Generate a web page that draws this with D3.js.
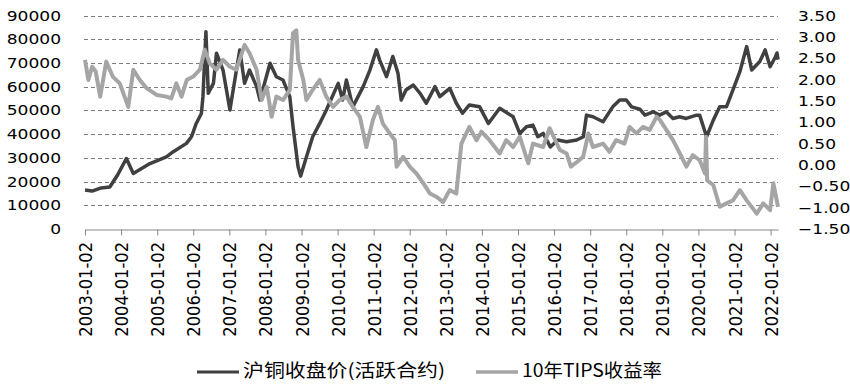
<!DOCTYPE html>
<html>
<head>
<meta charset="utf-8">
<script src="https://cdn.jsdelivr.net/npm/d3@7"></script>
<style>
  body { margin: 0; background: #fff; }
  text { font-family: "DejaVu Sans", Verdana, sans-serif; fill: #000; }
  .legend text { font-family: "Noto Sans CJK SC", sans-serif; }
</style>
</head>
<body>
<div class="chart"></div>
<script>
// data (dates, values)
const copperDates = ["2003-01-02","2003-03-15","2003-06-15","2003-09-10","2003-12-01","2004-02-25","2004-05-05","2004-10-20",
  "2005-04-05","2005-06-10","2005-10-25","2005-12-15","2006-02-01","2006-03-25","2006-04-10","2006-05-10","2006-06-03",
  "2006-07-25","2006-08-25","2006-10-30","2007-01-08","2007-03-15","2007-04-18","2007-06-05","2007-07-25","2007-10-05",
  "2007-11-08","2008-02-18","2008-04-22","2008-06-28","2008-09-05","2008-10-08","2008-11-28","2008-12-24","2009-02-20",
  "2009-04-25","2009-07-05","2009-09-10","2010-01-08","2010-02-22","2010-04-01","2010-06-05","2010-09-18","2010-11-25",
  "2011-01-30","2011-03-03","2011-05-12","2011-07-15","2011-09-05","2011-10-08","2011-11-25","2012-02-07","2012-04-16",
  "2012-06-18","2012-09-14","2012-11-02","2013-02-10","2013-04-18","2013-06-20","2013-08-28","2013-12-10","2014-03-08",
  "2014-07-01","2014-11-14","2015-01-20","2015-03-28","2015-06-02","2015-07-22","2015-09-14","2015-11-25","2016-02-08",
  "2016-05-08","2016-08-18","2016-10-25","2016-11-25","2017-01-30","2017-05-12","2017-08-18","2017-10-28","2018-01-02",
  "2018-02-25","2018-05-20","2018-07-10","2018-10-01","2018-12-05","2019-02-10","2019-04-20","2019-06-25","2019-09-01",
  "2019-12-15","2020-01-15","2020-03-25","2020-06-01","2020-08-05","2020-10-12","2020-12-17","2021-02-25","2021-05-05",
  "2021-06-25","2021-09-15","2021-11-08","2021-12-28","2022-02-18","2022-03-08","2022-03-18"];
const copperValues = [16400,16000,17300,17700,23000,29700,23400,27600,
  30400,32500,36100,38900,44500,48700,55800,83200,57200,
  61400,74100,67000,50200,67000,75500,61400,67000,60000,
  54400,69900,64200,62800,55800,43100,26200,22300,30400,
  38900,44500,50200,61400,54400,62800,51500,60000,67000,
  75500,71300,64200,72700,65700,54400,58600,60700,57200,
  53000,60000,55800,59300,53000,48800,52300,51500,44500,
  50900,47300,40300,43100,43800,38900,40300,34600,37500,
  36800,37500,38900,48000,47300,45200,51500,54400,54400,
  51500,50500,48000,49400,48000,49400,46600,47300,46600,
  48000,48000,38900,45900,51500,51500,58600,66300,76900,
  67000,70600,75500,68400,72400,74200,71400];

const tipsDates = ["2003-01-02","2003-02-05","2003-03-15","2003-04-20","2003-06-05","2003-08-05","2003-10-10","2003-12-20",
  "2004-03-15","2004-05-05","2004-07-10","2004-09-15","2004-12-28","2005-04-05","2005-05-25","2005-07-15","2005-09-05",
  "2005-10-28","2006-01-02","2006-03-10","2006-04-28","2006-06-18","2006-08-25","2006-10-30","2007-01-08","2007-03-15",
  "2007-06-05","2007-07-25","2007-10-05","2007-11-25","2008-01-15","2008-03-05","2008-04-22","2008-06-28","2008-09-05",
  "2008-10-08","2008-11-10","2008-11-28","2009-01-20","2009-02-20","2009-04-25","2009-07-05","2009-09-10","2009-11-18",
  "2010-01-22","2010-04-01","2010-06-05","2010-08-15","2010-10-20","2010-12-25","2011-02-14","2011-04-05","2011-06-14",
  "2011-08-05","2011-08-22","2011-10-28","2012-01-02","2012-03-10","2012-05-20","2012-07-25","2012-10-02","2012-12-05",
  "2013-02-10","2013-04-18","2013-06-08","2013-08-28","2013-11-08","2013-12-28","2014-03-20","2014-07-01","2014-09-05",
  "2014-11-14","2015-01-20","2015-04-16","2015-06-02","2015-09-14","2015-11-18","2016-03-01","2016-05-08","2016-06-20",
  "2016-08-20","2016-10-22","2016-12-15","2017-01-30","2017-05-12","2017-07-15","2017-09-20","2017-12-15","2018-02-05",
  "2018-04-15","2018-06-20","2018-08-28","2018-11-05","2018-12-10","2019-02-12","2019-04-20","2019-06-28","2019-09-03",
  "2019-11-06","2020-01-15","2020-03-09","2020-03-19","2020-03-31","2020-06-01","2020-08-05","2020-10-12","2020-12-17",
  "2021-02-25","2021-05-05","2021-08-15","2021-10-20","2021-12-28","2022-01-30","2022-02-20","2022-03-18"];
const tipsValues = [2.46,1.99,2.30,2.19,1.60,2.42,2.07,1.91,
  1.36,2.23,1.99,1.80,1.64,1.60,1.56,1.91,1.60,
  1.99,2.07,2.23,2.70,2.38,2.23,2.46,2.30,2.23,
  2.81,2.62,2.23,1.52,1.83,1.13,1.60,1.52,1.76,
  3.09,3.15,2.46,1.99,1.52,1.76,1.99,1.60,1.36,
  1.52,1.60,1.36,1.13,0.42,1.05,1.36,0.97,0.74,
  0.58,-0.04,0.19,-0.04,-0.20,-0.43,-0.67,-0.75,-0.87,
  -0.59,-0.67,0.50,0.89,0.58,0.78,0.58,0.27,0.58,
  0.42,0.66,0.04,0.50,0.42,0.86,0.35,0.27,-0.04,
  0.07,0.19,0.74,0.42,0.50,0.31,0.58,0.50,0.89,
  0.74,0.89,0.82,1.13,1.05,0.82,0.58,0.27,-0.04,
  0.23,0.11,-0.20,0.66,-0.36,-0.47,-0.98,-0.90,-0.83,
  -0.59,-0.83,-1.14,-0.90,-1.06,-0.43,-0.67,-0.98];

const xTickLabels = ["2003-01-02","2004-01-02","2005-01-02","2006-01-02","2007-01-02","2008-01-02","2009-01-02",
  "2010-01-02","2011-01-02","2012-01-02","2013-01-02","2014-01-02","2015-01-02","2016-01-02","2017-01-02",
  "2018-01-02","2019-01-02","2020-01-02","2021-01-02","2022-01-02"];
const leftTicks = [0,10000,20000,30000,40000,50000,60000,70000,80000,90000];
const rightTicks = [-1.5,-1,-0.5,0,0.5,1,1.5,2,2.5,3,3.5];
const seriesNames = ["沪铜收盘价(活跃合约)", "10年TIPS收益率"];

const width = 850, height = 388;
const plotLeft = 85, plotRight = 778, plotTop = 15.5, plotBottom = 229;
const stretch = 1.22; // the picture's text is wide

const parse = d3.timeParse("%Y-%m-%d");

const svg = d3.select(".chart").append("svg")
  .attr("width", width)
  .attr("height", height);

const xScale = d3.scaleTime()
  .domain([parse("2003-01-02"), parse("2022-03-18")])
  .range([plotLeft, plotRight]);
const yLeft = d3.scaleLinear().domain([0, 90000]).range([plotBottom, plotTop]);
const yRight = d3.scaleLinear().domain([-1.5, 3.5]).range([plotBottom, plotTop]);

// dashed gridlines
svg.append("g")
  .selectAll("line")
  .data(leftTicks.filter(d => d > 0))
  .join("line")
  .attr("x1", plotLeft - 1)
  .attr("x2", plotRight)
  .attr("y1", d => Math.round(yLeft(d)) + 0.5)
  .attr("y2", d => Math.round(yLeft(d)) + 0.5)
  .attr("stroke", "#7f7f7f")
  .attr("stroke-width", 1)
  .attr("stroke-dasharray", "4,3");

// left axis labels
svg.append("g")
  .selectAll("text")
  .data(leftTicks)
  .join("text")
  .attr("transform", d => `translate(61, ${yLeft(d) + 5}) scale(${stretch},1)`)
  .attr("text-anchor", "end")
  .style("font-size", "14px")
  .text(d => d);

// right axis labels
svg.append("g")
  .selectAll("text")
  .data(rightTicks)
  .join("text")
  .attr("transform", d => `translate(798, ${yRight(d) + 5}) scale(${stretch},1)`)
  .attr("text-anchor", "start")
  .style("font-size", "14px")
  .text(d => d3.format(".2f")(d));

// x axis
const xAxis = d3.axisBottom(xScale)
  .tickValues(xTickLabels.map(parse))
  .tickSize(6)
  .tickSizeOuter(0)
  .tickFormat(d3.timeFormat("%Y-%m-%d"));

const xg = svg.append("g")
  .attr("class", "x-axis")
  .attr("transform", `translate(0, ${plotBottom + 0.5})`)
  .call(xAxis);
xg.select(".domain").attr("stroke", "#868686");
xg.selectAll(".tick line").attr("stroke", "#868686");
xg.selectAll(".tick text")
  .attr("x", 0)
  .attr("y", 0)
  .attr("dy", "0.36em")
  .attr("text-anchor", "end")
  .attr("transform", `translate(0, 12.5) scale(1.12,1) rotate(-90)`)
  .style("font-size", "16.3px")
  .style("font-family", "DejaVu Sans, sans-serif")
  .attr("fill", "#000");

// lines
const copper = copperDates.map((d, i) => ({ date: parse(d), value: copperValues[i] }));
const tips = tipsDates.map((d, i) => ({ date: parse(d), value: tipsValues[i] }));

svg.append("path")
  .datum(copper)
  .attr("fill", "none")
  .attr("stroke", "#404040")
  .attr("stroke-width", 3.5)
  .attr("stroke-linejoin", "round")
  .attr("d", d3.line().x(d => xScale(d.date)).y(d => yLeft(d.value)));

svg.append("path")
  .datum(tips)
  .attr("fill", "none")
  .attr("stroke", "#a5a5a5")
  .attr("stroke-width", 4)
  .attr("stroke-linejoin", "round")
  .attr("d", d3.line().x(d => xScale(d.date)).y(d => yRight(d.value)));

// legend
const legend = svg.append("g").attr("class", "legend");
const legendItems = [
  { name: seriesNames[0], color: "#404040", w: 3, x: 197, len: 202 },
  { name: seriesNames[1], color: "#a5a5a5", w: 3.5, x: 476, len: 140 }
];
legendItems.forEach(item => {
  legend.append("line")
    .attr("x1", item.x).attr("x2", item.x + 42)
    .attr("y1", 372).attr("y2", 372)
    .attr("stroke", item.color)
    .attr("stroke-width", item.w);
  legend.append("text")
    .attr("x", item.x + 46)
    .attr("y", 377)
    .attr("textLength", item.len)
    .attr("lengthAdjust", "spacingAndGlyphs")
    .style("font-size", "18px")
    .text(item.name);
});
</script>
</body>
</html>
